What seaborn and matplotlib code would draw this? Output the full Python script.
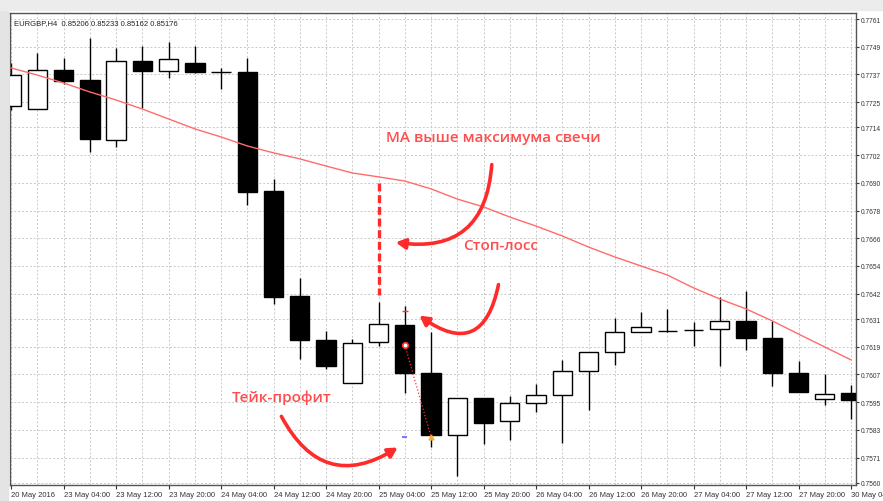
import numpy as np
import pandas as pd
import seaborn as sns
import matplotlib.pyplot as plt
from matplotlib.ticker import MultipleLocator
from matplotlib.patches import Rectangle


# свечи EURGBP H4
opens = [0.77233, 0.77220, 0.77389, 0.77346, 0.77086, 0.77428, 0.77385, 0.77420, 0.77380,
         0.77380, 0.76865, 0.76410, 0.76219, 0.76033, 0.76211, 0.76285, 0.76076, 0.75808,
         0.75968, 0.75868, 0.75946, 0.75981, 0.76085, 0.76168, 0.76254, 0.76258, 0.76263,
         0.76267, 0.76302, 0.76228, 0.76076, 0.75964, 0.75990]
highs = [0.77420, 0.77463, 0.77441, 0.77528, 0.77484, 0.77493, 0.77510, 0.77493, 0.77398,
         0.77441, 0.76917, 0.76488, 0.76258, 0.76224, 0.76384, 0.76367, 0.76254, 0.75968,
         0.75968, 0.75977, 0.76029, 0.76133, 0.76168, 0.76315, 0.76341, 0.76354, 0.76297,
         0.76406, 0.76432, 0.76302, 0.76128, 0.76072, 0.76024]
lows = [0.77216, 0.77220, 0.77328, 0.77034, 0.77056, 0.77224, 0.77354, 0.77376, 0.77307,
        0.76804, 0.76375, 0.76137, 0.76094, 0.76033, 0.76194, 0.75990, 0.75756, 0.75630,
        0.75769, 0.75786, 0.75907, 0.75773, 0.75916, 0.76111, 0.76254, 0.76254, 0.76194,
        0.76107, 0.76176, 0.76020, 0.75994, 0.75938, 0.75877]
closes = [0.77367, 0.77389, 0.77341, 0.77090, 0.77428, 0.77385, 0.77437, 0.77380, 0.77380,
          0.76861, 0.76406, 0.76219, 0.76107, 0.76206, 0.76289, 0.76076, 0.75808, 0.75968,
          0.75860, 0.75946, 0.75981, 0.76085, 0.76168, 0.76254, 0.76276, 0.76258, 0.76263,
          0.76302, 0.76228, 0.76076, 0.75994, 0.75985, 0.75959]

# скользящая средняя
ma = [0.77398, 0.77367, 0.77333, 0.77294, 0.77259, 0.77220, 0.77177, 0.77134, 0.77099,
      0.77060, 0.77030, 0.77004, 0.76973, 0.76943, 0.76926, 0.76908, 0.76874, 0.76830,
      0.76796, 0.76752, 0.76713, 0.76670, 0.76622, 0.76579, 0.76540, 0.76501, 0.76445,
      0.76397, 0.76354, 0.76302, 0.76245, 0.76189, 0.76133]

x_labels = ['20 May 2016', '23 May 04:00', '23 May 12:00', '23 May 20:00', '24 May 04:00',
            '24 May 12:00', '24 May 20:00', '25 May 04:00', '25 May 12:00', '25 May 20:00',
            '26 May 04:00', '26 May 12:00', '26 May 20:00', '27 May 04:00', '27 May 12:00',
            '27 May 20:00', '30 May 04:00']
y_labels = ['0.7560', '0.7571', '0.7583', '0.7595', '0.7607', '0.7619', '0.7631', '0.7642',
            '0.7654', '0.7666', '0.7678', '0.7690', '0.7702', '0.7714', '0.7725', '0.7737',
            '0.7749', '0.7761']

# уровни сделки
stop_loss = 0.76345
entry = 0.76198
take_profit = 0.75799

df = pd.DataFrame({'o': opens, 'h': highs, 'l': lows, 'c': closes, 'ma': ma})
df['i'] = np.arange(len(df))

sns.set_style('white')
plt.rcParams['font.family'] = ['Liberation Sans', 'DejaVu Sans']

fig = plt.figure(figsize=(8.83, 5.02), dpi=100)
fig.patch.set_facecolor('white')
# тень от окна терминала
fig.patches.append(Rectangle((0, 0), 8 / 883, 1, transform=fig.transFigure, color='#e4e4e4', zorder=0))
fig.patches.append(Rectangle((0, 1 - 11 / 502), 1, 11 / 502, transform=fig.transFigure, color='#ececec', zorder=0))

ax = fig.add_axes([10 / 883, 16 / 502, 846 / 883, 472 / 502])

# тени свечей
ax.vlines(df['i'], df['l'], df['h'], color='black', lw=1, zorder=2)

# тела свечей
up = df['c'] >= df['o']
body_bottom = df[['o', 'c']].min(axis=1)
body_height = (df['c'] - df['o']).abs()
ax.bar(df['i'][up], body_height[up], bottom=body_bottom[up], width=0.74,
       color='white', edgecolor='black', lw=1, zorder=3)
ax.bar(df['i'][~up], body_height[~up], bottom=body_bottom[~up], width=0.74,
       color='black', edgecolor='black', lw=1, zorder=3)

# MA
sns.lineplot(data=df, x='i', y='ma', color='#ff6b6b', lw=1, ax=ax, zorder=4)

# пунктир MA -> максимум свечи
ax.plot([14, 14], [0.76900, 0.76415], color='#ff2b2b', lw=2.4, ls=(0, (2.4, 1.1)), zorder=5)

# отметки сделки
ax.hlines(stop_loss, 14.88, 15.12, color='#ff3030', lw=1, zorder=5)
ax.hlines(take_profit, 14.9, 15.1, color='#7a7aff', lw=1.5, zorder=5)
ax.plot([15, 16], [entry, take_profit], color='#ff3030', lw=0.9, ls=':', zorder=5)
ax.plot(15, entry, 'o', ms=4, mfc='white', mec='#ff3030', mew=1.2, zorder=6)
ax.plot(16, take_profit, marker='^', ms=3.5, color='#f0b030', zorder=6)

# подписи и стрелки
red = '#ff4d4d'
txt_font = ['Open Sans', 'DejaVu Sans']
ax.text(18.36, 0.77099, 'МА выше максимума свечи', color=red, fontsize=11,
        fontweight='semibold', family=txt_font, ha='center', va='center', zorder=7)
ax.text(18.63, 0.76631, 'Стоп-лосс', color=red, fontsize=11,
        fontweight='semibold', family=txt_font, ha='center', va='center', zorder=7)
ax.text(10.32, 0.75973, 'Тейк-профит', color=red, fontsize=11,
        fontweight='semibold', family=txt_font, ha='center', va='center', zorder=7)

arrow = dict(arrowstyle='-|>,head_length=0.55,head_width=0.3', color='#ff2b2b', lw=2.6)
ax.annotate('', xy=(14.55, 0.76644), xytext=(18.32, 0.76991),
            arrowprops=dict(**arrow, connectionstyle='arc3,rad=-0.55'), zorder=7)
ax.annotate('', xy=(15.47, 0.76332), xytext=(18.59, 0.76471),
            arrowprops=dict(**arrow, connectionstyle='arc3,rad=-0.8'), zorder=7)
ax.annotate('', xy=(14.82, 0.75760), xytext=(10.25, 0.75899),
            arrowprops=dict(**arrow, connectionstyle='arc3,rad=0.55'), zorder=7)

# заголовок терминала
ax.text(0.005, 0.988, 'EURGBP,H4  0.85206 0.85233 0.85162 0.85176', transform=ax.transAxes,
        fontsize=5.5, va='top', ha='left', color='#222222', zorder=8)

# оси
ax.set_xlim(-0.04, 32.19)
ax.set_ylim(0.75591, 0.77636)
ax.set_xticks(np.arange(0, 33, 2), x_labels, ha='left')
ax.xaxis.set_minor_locator(MultipleLocator(1))
ax.set_yticks([float(v) for v in y_labels], y_labels)
ax.yaxis.tick_right()
ax.tick_params(axis='both', which='major', direction='out', length=3, width=0.8,
               labelsize=5.5, colors='#333333', pad=1.5)
ax.tick_params(axis='y', labelsize=4.8, length=2.5, pad=1)
ax.tick_params(axis='x', which='minor', length=0)
ax.tick_params(axis='y', left=False, right=True)
ax.tick_params(axis='x', bottom=True)
ax.grid(True, which='both', axis='x', color='#c8c8c8', ls=(0, (2, 2)), lw=0.7)
ax.grid(True, which='major', axis='y', color='#c8c8c8', ls=(0, (2, 2)), lw=0.7)
ax.set_axisbelow(True)
for s in ax.spines.values():
    s.set_visible(True)
    s.set_color('#555555')
    s.set_linewidth(1)
ax.set_xlabel('')
ax.set_ylabel('')

fig.savefig('out.png', dpi=100, facecolor=fig.get_facecolor())
